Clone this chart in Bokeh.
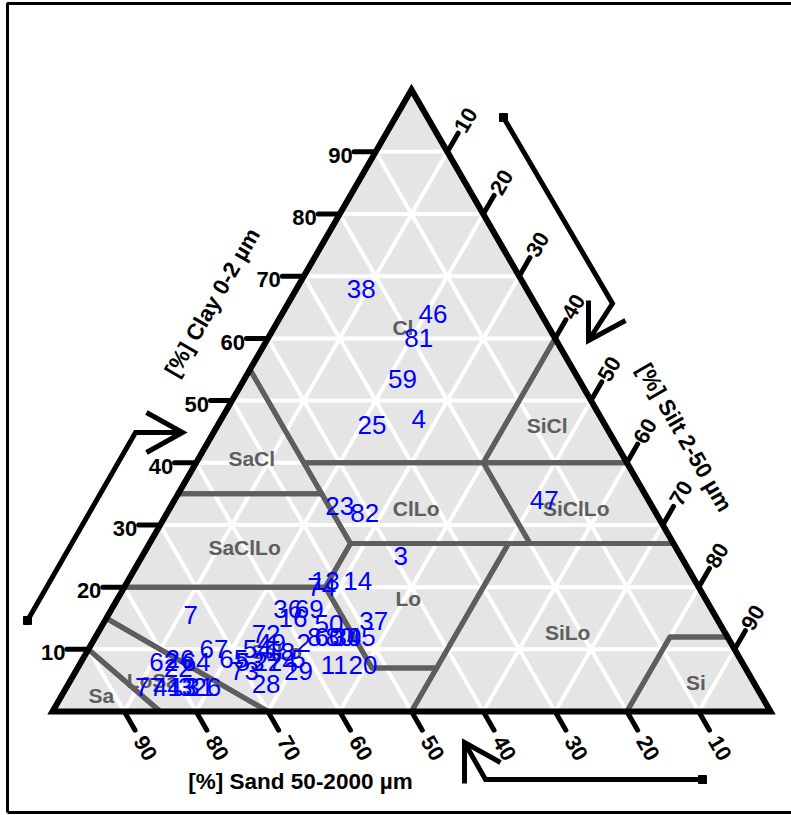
import math
from bokeh.plotting import figure
from bokeh.models import Range1d
from bokeh.core.properties import value
from bokeh.embed import file_html
from bokeh.resources import INLINE

# ---------------- data (percent) ----------------
point_ids = ["38", "46", "81", "59", "25", "4", "23", "82", "47", "3",
             "13", "14", "74", "7", "36", "69", "16", "50", "37", "2",
             "8", "60", "80", "30", "45", "11", "20", "29", "28", "73",
             "65", "54", "72", "49", "27", "24", "18", "5", "67", "62",
             "26", "64", "22", "77", "41", "43", "32", "31", "6", "53"]
clay = [68, 64, 60, 53.5, 46, 47, 33, 32, 34, 25,
        21, 21, 20, 15.5, 16.5, 16.5, 15, 14, 14.5, 11,
        12, 12, 12, 12, 12, 7.5, 7.5, 6.5, 4.5, 6.5,
        8.5, 10, 12.5, 11, 8, 8, 9.5, 8.5, 10, 8,
        8.5, 8, 7, 4, 4, 4, 4, 4, 4, 8]
silt = [9, 21, 21, 22, 21.5, 27.5, 23.5, 27.5, 51.5, 36,
        27.5, 32, 27.5, 11.5, 24.5, 27.5, 26, 31.5, 37.5, 29.5,
        30.5, 32.5, 34, 35, 37, 35.5, 39.5, 31, 27.5, 23.5,
        21, 23.5, 23.5, 25, 26, 28, 27, 30, 17.5, 11.5,
        13.5, 16, 14, 11.5, 14, 16, 17.5, 18.5, 20.5, 23.5]
sand = [23, 15, 19, 24.5, 32.5, 25.5, 43.5, 40.5, 14.5, 39,
        51.5, 47, 52.5, 73, 59, 56, 59, 54.5, 48, 59.5,
        57.5, 55.5, 54, 53, 51, 57, 53, 62.5, 68, 70,
        70.5, 66.5, 64, 64, 66, 64, 63.5, 61.5, 72.5, 80.5,
        78, 76, 79, 84.5, 82, 80, 78.5, 77.5, 75.5, 68.5]

# USDA texture classes: vertices as (clay, silt)
class_names = ["Cl", "SiCl", "SaCl", "ClLo", "SiClLo", "SaClLo",
               "Lo", "SiLo", "Si", "SaLo", "LoSa", "Sa"]
class_polys = [
    [(100, 0), (55, 0), (40, 15), (40, 40), (60, 40)],
    [(40, 40), (40, 60), (60, 40)],
    [(55, 0), (35, 0), (35, 20), (40, 15)],
    [(40, 15), (27, 28), (27, 53), (40, 40)],
    [(40, 40), (27, 53), (27, 73), (40, 60)],
    [(35, 0), (20, 0), (20, 28), (27, 28), (35, 20)],
    [(27, 28), (27, 50), (7, 50), (7, 41), (20, 28)],
    [(27, 50), (27, 73), (12, 88), (12, 80), (0, 80), (0, 50), (7, 50)],
    [(0, 80), (12, 80), (12, 88), (0, 100)],
    [(20, 0), (20, 28), (7, 41), (7, 50), (0, 50), (0, 30), (15, 0)],
    [(15, 0), (0, 30), (0, 15), (10, 0)],
    [(10, 0), (0, 15), (0, 0)],
]
# label positions (clay, silt)
class_label_pos = [(61.8, 17.9), (46.0, 45.9), (40.7, 7.4), (32.7, 34.3),
                   (32.7, 56.6), (26.3, 13.6), (18.1, 40.5), (12.7, 65.4),
                   (4.6, 87.3), (9.6, 26.4), (5.0, 11.4), (2.6, 5.5)]

tick_values = [10, 20, 30, 40, 50, 60, 70, 80, 90]

# ---------------- geometry ----------------
W, H = 791, 815
OFF = 0             # page offset of the figure
S = 7.18            # pixels per percent
BX, BY = 52, 711    # page position of the 100 % sand corner
x0 = -(BX - OFF) / S
x1 = x0 + W / S
y1 = (BY - OFF) / S
y0 = y1 - H / S
R3 = math.sqrt(3) / 2


def tern(c, s):
    return s + c / 2.0, c * R3


def px(sx, sy):
    return x0 + (sx - OFF) / S, y1 - (sy - OFF) / S


p = figure(width=W, height=H, x_range=Range1d(x0, x1), y_range=Range1d(y0, y1),
           output_backend="svg", toolbar_location=None,
           x_axis_type=None, y_axis_type=None, min_border=0)
p.grid.visible = False
p.outline_line_color = None
p.background_fill_color = "white"
p.border_fill_color = "white"

FONT = value("Liberation Sans")

# page frame
fx = [px(7, 812)[0], px(7, 3)[0], px(795, 3)[0]]
fy = [px(7, 812)[1], px(7, 3)[1], px(795, 3)[1]]
p.line(fx, fy, line_color="black", line_width=3)
bx = [px(7, 812)[0], px(795, 812)[0]]
by = [px(7, 812)[1], px(795, 812)[1]]
p.line(bx, by, line_color="black", line_width=3)

# triangle background
p.patch([0, 100, 50], [0, 0, 100 * R3], fill_color="#e5e5e5", line_color=None)

# white grid
gx, gy = [], []
for k in tick_values:
    a = tern(k, 0); b = tern(k, 100 - k)          # constant clay
    gx.append([a[0], b[0]]); gy.append([a[1], b[1]])
    a = tern(0, k); b = tern(100 - k, k)          # constant silt
    gx.append([a[0], b[0]]); gy.append([a[1], b[1]])
    a = tern(0, 100 - k); b = tern(100 - k, 0)    # constant sand
    gx.append([a[0], b[0]]); gy.append([a[1], b[1]])
p.multi_line(gx, gy, line_color="white", line_width=4)

# class boundaries
cxs, cys = [], []
for poly in class_polys:
    pts = [tern(c, s) for c, s in poly]
    cxs.append([q[0] for q in pts]); cys.append([q[1] for q in pts])
p.patches(cxs, cys, fill_color=None, line_color="#5e5e5e", line_width=5,
          line_join="round")

# class labels
lx = [tern(c, s)[0] for c, s in class_label_pos]
ly = [tern(c, s)[1] for c, s in class_label_pos]
p.text(lx, ly, text=class_names, text_font=FONT, text_font_style="bold",
       text_font_size="21px", text_color="#5e5e5e", text_align="center",
       text_baseline="middle")

# triangle border
p.patch([0, 100, 50], [0, 0, 100 * R3], fill_color=None, line_color="black",
        line_width=6, line_join="miter")

# ticks
TL = 3.0
tx, ty = [], []
clx, cly, slx, sly, dlx, dly = [], [], [], [], [], []
for k in tick_values:
    # clay (left edge), horizontal ticks
    e = tern(k, 0)
    tx.append([e[0], e[0] - TL]); ty.append([e[1], e[1]])
    clx.append(e[0] - 4.9); cly.append(e[1] - 0.5)
    # sand (bottom edge)
    e = tern(0, 100 - k)
    tx.append([e[0], e[0] + TL * 0.5]); ty.append([e[1], e[1] - TL * R3])
    slx.append(e[0] + 5.9 * 0.5); sly.append(e[1] - 5.9 * R3)
    # silt (right edge)
    e = tern(100 - k, k)
    tx.append([e[0], e[0] + TL * 0.5]); ty.append([e[1], e[1] + TL * R3])
    dlx.append(e[0] + 5.1 * 0.5); dly.append(e[1] + 5.1 * R3)
p.multi_line(tx, ty, line_color="black", line_width=5, line_cap="round")

labels = [str(k) for k in tick_values]
common = dict(text_font=FONT, text_font_style="bold", text_font_size="22px",
              text_color="black", text_align="center", text_baseline="middle")
p.text(clx, cly, text=labels, **common)
p.text(slx, sly, text=labels, angle=-math.pi / 3, **common)
p.text(dlx, dly, text=labels, angle=math.pi / 3, **common)

# data points (labels)
ptx = [tern(c, s)[0] for c, s in zip(clay, silt)]
pty = [tern(c, s)[1] for c, s in zip(clay, silt)]
p.text(ptx, pty, text=point_ids, text_font=FONT, text_font_size="26px",
       text_color="#0000ff", text_align="center", text_baseline="middle")

# axis titles
title_common = dict(text_font=FONT, text_font_style="bold", text_font_size="22.5px",
                    text_color="black", text_align="center", text_baseline="middle")
t = px(212, 302)
p.text([t[0]], [t[1]], text=["[%] Clay 0-2 µm"], angle=math.pi / 3, **title_common)
t = px(684, 437)
p.text([t[0]], [t[1]], text=["[%] Silt 2-50 µm"], angle=-math.pi / 3, **title_common)
t = px(300, 781)
p.text([t[0]], [t[1]], text=["[%] Sand 50-2000 µm"], **title_common)

# direction arrows (page pixel positions)
arrow_paths = [
    [(27, 620), (135, 432), (182, 432)],
    [(503, 117), (612, 303), (588, 340)],
    [(702, 779), (485, 779), (464, 742)],
]
arrow_heads = [
    [(146, 412), (182, 432), (146, 452)],
    [(588, 300), (588, 340), (625, 320)],
    [(464, 783), (464, 742), (500, 762)],
]
axs, ays, hxs, hys, sxs, sys_ = [], [], [], [], [], []
for path, head in zip(arrow_paths, arrow_heads):
    pts = [px(a, b) for a, b in path]
    axs.append([q[0] for q in pts]); ays.append([q[1] for q in pts])
    hp = [px(a, b) for a, b in head]
    hxs.append([q[0] for q in hp]); hys.append([q[1] for q in hp])
    sxs.append(pts[0][0]); sys_.append(pts[0][1])
p.multi_line(axs, ays, line_color="black", line_width=5, line_join="miter")
p.multi_line(hxs, hys, line_color="black", line_width=5, line_join="miter")
p.scatter(sxs, sys_, marker="square", size=8, fill_color="black", line_color="black")

open("out.html", "w").write(file_html(p, INLINE))
